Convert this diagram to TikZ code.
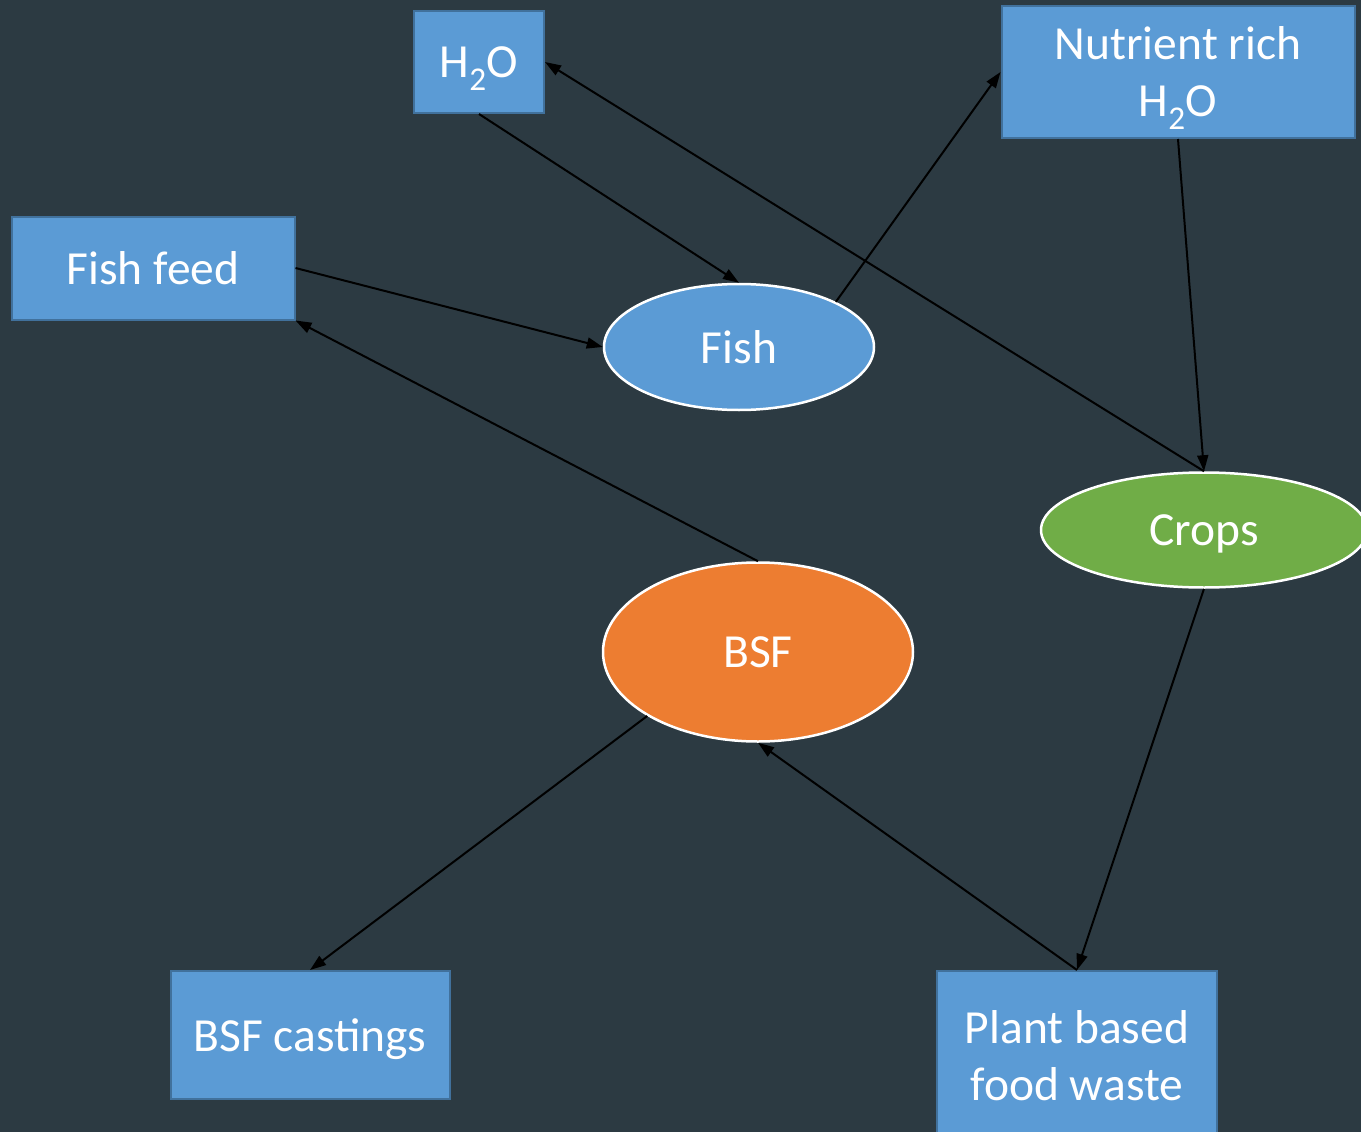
\documentclass[tikz,border=0pt]{standalone}
\usepackage{fontspec}
\setmainfont{Carlito}
\usetikzlibrary{positioning}
\usetikzlibrary{arrows.meta}
\usetikzlibrary{shapes.geometric}

\definecolor{bgslate}{HTML}{2C3A42}
\definecolor{boxblue}{HTML}{5B9BD5}
\definecolor{boxedge}{HTML}{41719C}
\definecolor{cropgreen}{HTML}{70AD47}
\definecolor{bsforange}{HTML}{ED7D31}

\tikzset{
    thing/.style={draw=boxedge, line width=2pt, fill=boxblue, text=white, inner sep=0pt, align=center, font=\fontsize{47.5}{57}\selectfont},
    blob/.style={ellipse, draw=white, line width=2.5pt, text=white, inner sep=0pt, font=\fontsize{47.5}{57}\selectfont},
    flow/.style={-{Triangle[length=16pt,width=11pt]}, line width=2pt, black}
}

\begin{document}
\begin{tikzpicture}[x=1pt, y=-1pt]
            \fill[bgslate] (0,0) rectangle (1361,1132);
            \useasboundingbox (0,0) rectangle (1361,1132);

            \node(water) [thing, minimum width=130pt, minimum height=102pt, text depth=0pt] at (479,62) {H\textsubscript{2}O};
            \node(rich) [thing, minimum width=353pt, minimum height=132pt, text depth=0pt] at (1178,72) {Nutrient rich\\H\textsubscript{2}O};
            \node(feed) [thing, minimum width=283pt, minimum height=103pt] at (153,268) {Fish feed};
            \node(cast) [thing, minimum width=279pt, minimum height=128pt, text depth=0pt] at (310,1035) {BSF castings};
            \node(waste) [thing, minimum width=280pt, minimum height=170pt] at (1077,1056) {Plant based\\food waste};

            \node(fish) [blob, fill=boxblue, minimum width=270pt, minimum height=126pt] at (739,347) {Fish};
            \node(crops) [blob, fill=cropgreen, minimum width=326pt, minimum height=115pt, text depth=0pt] at (1204,530) {Crops};
            \node(bsf) [blob, fill=bsforange, minimum width=310pt, minimum height=179pt] at (758,652) {BSF};

            \draw[flow] (water.south) -- (fish.north);
            \draw[flow] (feed.east) -- (fish.west);
            \draw[flow] (fish.25) -- (rich.west);
            \draw[flow] (rich.south) -- (crops.north);
            \draw[flow] (crops.north) -- (water.east);
            \draw[flow] (bsf.north) -- (feed.south east);
            \draw[flow] (bsf.210) -- (cast.north);
            \draw[flow] (crops.south) -- (waste.north);
            \draw[flow] (waste.north) -- (bsf.south);
        \end{tikzpicture}
\end{document}
